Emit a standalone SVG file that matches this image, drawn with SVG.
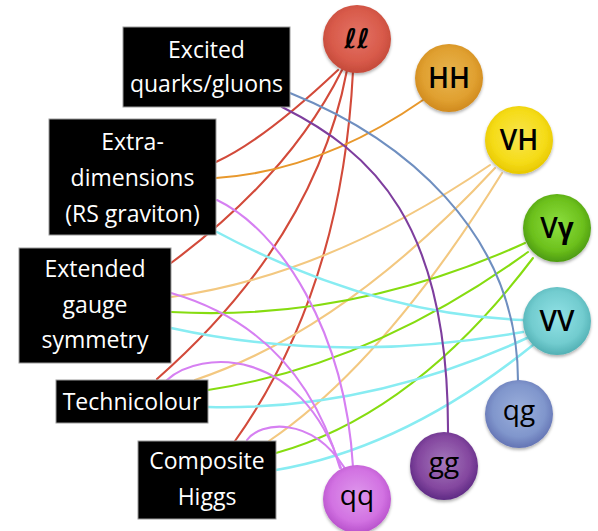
<svg xmlns="http://www.w3.org/2000/svg" width="598" height="531" viewBox="0 0 598 531">
  <style>
    .box { fill: #000; stroke: #9a9a9a; stroke-width: 1; }
    .lbl { fill: #fff; font-family: "Open Sans", "DejaVu Sans", sans-serif; font-size: 23px; text-anchor: middle; }
    .ball { filter: url(#shadow); }
    .sym { fill: #000; font-family: "Open Sans", "DejaVu Sans", sans-serif; font-size: 28px; text-anchor: middle; }
    .caps { font-weight: 600; }
    #connectors path { fill: none; stroke-width: 2.1; stroke-linecap: round; }
    .c-ll { stroke: #d24a3a; }
    .c-hh { stroke: #e8982c; }
    .c-vh { stroke: #f3c880; }
    .c-vg { stroke: #86dc10; }
    .c-vv { stroke: #88ecf2; stroke-width: 2.5 !important; }
    .c-qg { stroke: #6f8fc0; }
    .c-gg { stroke: #7e3e9e; }
    .c-qq { stroke: #d680f2; }
  </style>
  <defs>
    <filter id="shadow" x="-20%" y="-20%" width="140%" height="150%">
      <feDropShadow dx="0" dy="2" stdDeviation="1.5" flood-color="#000" flood-opacity="0.3"/>
    </filter>
    <radialGradient id="g-ll" cx="0.5" cy="0.45" r="0.55">
      <stop offset="0" stop-color="#e47466"/><stop offset="0.7" stop-color="#d85a4a"/><stop offset="1" stop-color="#c44a3a"/>
    </radialGradient>
    <radialGradient id="g-hh" cx="0.5" cy="0.45" r="0.55">
      <stop offset="0" stop-color="#e8b550"/><stop offset="0.7" stop-color="#e0a030"/><stop offset="1" stop-color="#d08a1e"/>
    </radialGradient>
    <radialGradient id="g-vh" cx="0.5" cy="0.45" r="0.55">
      <stop offset="0" stop-color="#f8e450"/><stop offset="0.7" stop-color="#f5dc18"/><stop offset="1" stop-color="#e8c800"/>
    </radialGradient>
    <radialGradient id="g-vg" cx="0.5" cy="0.45" r="0.55">
      <stop offset="0" stop-color="#8ee040"/><stop offset="0.7" stop-color="#6cc01c"/><stop offset="1" stop-color="#4c9a10"/>
    </radialGradient>
    <radialGradient id="g-vv" cx="0.5" cy="0.45" r="0.55">
      <stop offset="0" stop-color="#92e2e6"/><stop offset="0.7" stop-color="#72cccf"/><stop offset="1" stop-color="#52b0b4"/>
    </radialGradient>
    <radialGradient id="g-qg" cx="0.5" cy="0.45" r="0.55">
      <stop offset="0" stop-color="#9cb0dc"/><stop offset="0.7" stop-color="#8096cc"/><stop offset="1" stop-color="#6474b4"/>
    </radialGradient>
    <radialGradient id="g-gg" cx="0.5" cy="0.45" r="0.55">
      <stop offset="0" stop-color="#a478bc"/><stop offset="0.7" stop-color="#84479f"/><stop offset="1" stop-color="#5e2a84"/>
    </radialGradient>
    <radialGradient id="g-qq" cx="0.5" cy="0.45" r="0.55">
      <stop offset="0" stop-color="#de98ec"/><stop offset="0.7" stop-color="#d272e2"/><stop offset="1" stop-color="#b852cc"/>
    </radialGradient>
  </defs>

  <rect width="598" height="531" fill="#fff"/>

  <!-- links between models and final states -->
  <g id="connectors">
    <path class="c-ll" d="M216,162 Q264,140 338,70"/>
    <path class="c-ll" d="M171,263 Q290,175 342,70"/>
    <path class="c-ll" d="M157,379 Q315,240 347,70"/>
    <path class="c-ll" d="M235,441 Q342,290 353,71"/>
    <path class="c-hh" d="M216,178 Q321,171 423,100"/>
    <path class="c-vh" d="M171,297 Q329,275 490,165"/>
    <path class="c-vh" d="M195,380 Q345,330 495,168"/>
    <path class="c-vh" d="M269,441 Q384,363 502,173"/>
    <path class="c-vg" d="M171,312 Q351,322 525,243"/>
    <path class="c-vg" d="M208,390 Q372,365 528,252"/>
    <path class="c-vg" d="M276,453 Q415,414 533,258"/>
    <path class="c-vv" d="M217,232 Q370,314 523,320"/>
    <path class="c-vv" d="M171,328 Q340,365 523,332"/>
    <path class="c-vv" d="M208,407 Q368,411 527,338"/>
    <path class="c-vv" d="M276,470 Q405,448 533,345"/>
    <path class="c-qg" d="M290,93 C400,137 518,230 518,381"/>
    <path class="c-gg" d="M282,107 C372,152 449,222 448,433"/>
    <path class="c-qq" d="M217,200 C280,230 345,330 353,467"/>
    <path class="c-qq" d="M171,293 Q300,330 340,468"/>
    <path class="c-qq" d="M167,380 C200,350 300,345 341,468"/>
    <path class="c-qq" d="M247,440 C260,422 310,415 344,467"/>
  </g>

  <!-- model boxes -->
  <g id="excited">
    <rect class="box" x="123" y="27" width="167" height="80"/>
    <text class="lbl" x="206.5" y="58">Excited</text>
    <text class="lbl" x="206.5" y="92">quarks/gluons</text>
  </g>
  <g id="extra-dimensions">
    <rect class="box" x="49" y="119" width="167" height="116"/>
    <text class="lbl" x="132.5" y="150">Extra-</text>
    <text class="lbl" x="132.5" y="186">dimensions</text>
    <text class="lbl" x="132.5" y="222">(RS graviton)</text>
  </g>
  <g id="extended-gauge">
    <rect class="box" x="19" y="248" width="152" height="115"/>
    <text class="lbl" x="95" y="277">Extended</text>
    <text class="lbl" x="95" y="313">gauge</text>
    <text class="lbl" x="95" y="348">symmetry</text>
  </g>
  <g id="technicolour">
    <rect class="box" x="56" y="380" width="152" height="43"/>
    <text class="lbl" x="132" y="410">Technicolour</text>
  </g>
  <g id="composite-higgs">
    <rect class="box" x="138" y="441" width="138" height="78"/>
    <text class="lbl" x="207" y="469">Composite</text>
    <text class="lbl" x="207" y="505">Higgs</text>
  </g>

  <!-- final-state nodes -->
  <g id="ll">
    <circle class="ball" cx="357" cy="39" r="34" fill="url(#g-ll)"/>
    <text class="sym" x="357" y="48" style="font-family:'DejaVu Sans',sans-serif;font-style:italic;font-weight:bold;font-size:27px">ℓℓ</text>
  </g>
  <g id="hh">
    <circle class="ball" cx="449" cy="78" r="34" fill="url(#g-hh)"/>
    <text class="sym caps" x="449" y="88">HH</text>
  </g>
  <g id="vh">
    <circle class="ball" cx="519" cy="140" r="34" fill="url(#g-vh)"/>
    <text class="sym caps" x="519" y="150">VH</text>
  </g>
  <g id="vgamma">
    <circle class="ball" cx="557" cy="228" r="34" fill="url(#g-vg)"/>
    <text class="sym caps" x="557" y="238">V<tspan font-weight="bold">γ</tspan></text>
  </g>
  <g id="vv">
    <circle class="ball" cx="557" cy="321" r="34" fill="url(#g-vv)"/>
    <text class="sym caps" x="557" y="331">VV</text>
  </g>
  <g id="qg">
    <circle class="ball" cx="519" cy="414" r="34" fill="url(#g-qg)"/>
    <text class="sym" x="519" y="420">qg</text>
  </g>
  <g id="gg">
    <circle class="ball" cx="444" cy="466" r="34" fill="url(#g-gg)"/>
    <text class="sym" x="444" y="472">gg</text>
  </g>
  <g id="qq">
    <circle class="ball" cx="357" cy="499" r="34" fill="url(#g-qq)"/>
    <text class="sym" x="357" y="505">qq</text>
  </g>
</svg>
